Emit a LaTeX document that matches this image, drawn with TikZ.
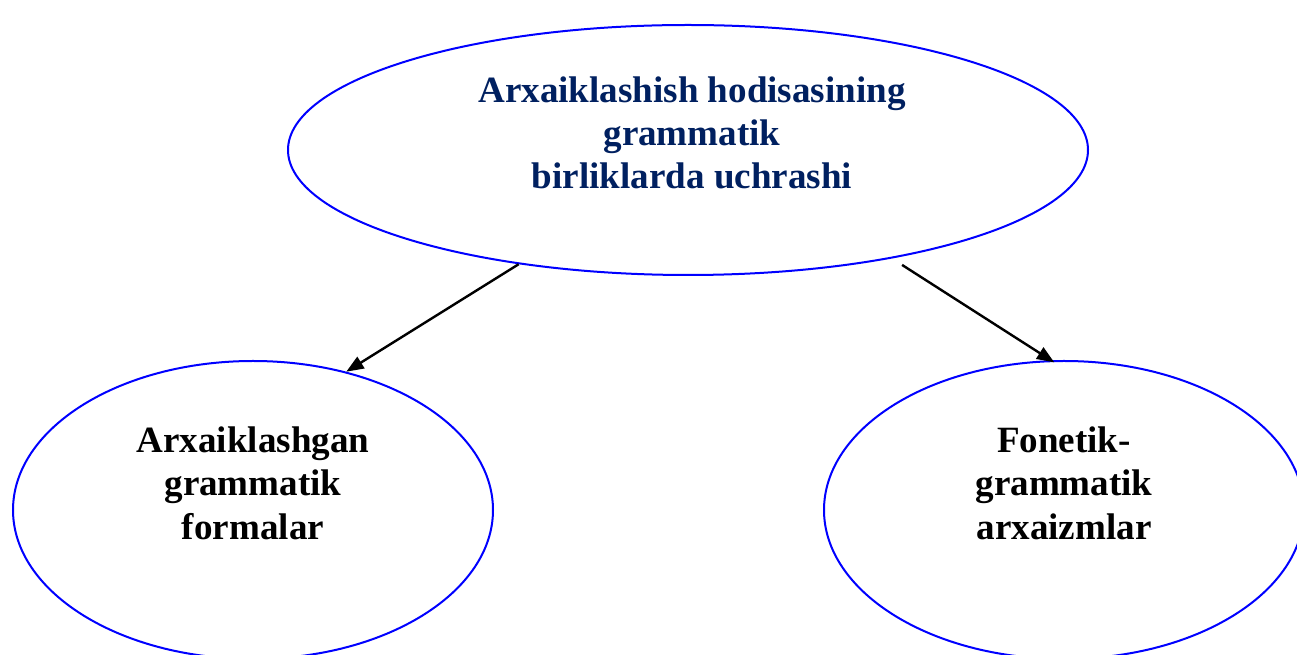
\documentclass[tikz,border=0pt]{standalone}
\usepackage{fontspec}
\setmainfont{Liberation Serif}
\definecolor{ovalblue}{HTML}{0000FF}
\definecolor{titlenavy}{HTML}{002060}
\usetikzlibrary{arrows.meta,shapes.geometric}
\tikzset{
    oval/.style={
        ellipse,
        draw=ovalblue,
        fill=white,
        line width=1.5pt,
        inner sep=0pt
    },
    ovaltext/.style={
        align=center,
        inner sep=0pt,
        font=\fontsize{27.8}{32.5}\selectfont\bfseries
    },
    ovalarrow/.style={
        -{Triangle[length=13pt,width=10pt]},
        draw=black,
        line width=1.8pt
    }
}
\begin{document}
\begin{tikzpicture}[x=0.75pt,y=-0.75pt]
    \useasboundingbox (0,0) rectangle (1297,655);
    \node[oval,minimum width=600pt,minimum height=187.5pt] (root) at (688,150) {};
    \node[oval,minimum width=360pt,minimum height=223.5pt] (forms) at (253,510) {};
    \node[oval,minimum width=360pt,minimum height=223.5pt] (archaisms) at (1064,510) {};

    \node[ovaltext,text=titlenavy] (roottext) at (692,133)
        {Arxaiklashish hodisasining\\grammatik\\birliklarda uchrashi};
    \node[ovaltext] (formstext) at (253,483)
        {Arxaiklashgan\\grammatik\\formalar};
    \node[ovaltext] (archaismstext) at (1064,483)
        {Fonetik-\\grammatik\\arxaizmlar};

    \draw[ovalarrow] (root.214) -- (forms.56.7);
    \draw[ovalarrow,shorten <=9pt,shorten >=-3pt] (root.332) -- (archaisms.95);
\end{tikzpicture}
\end{document}
